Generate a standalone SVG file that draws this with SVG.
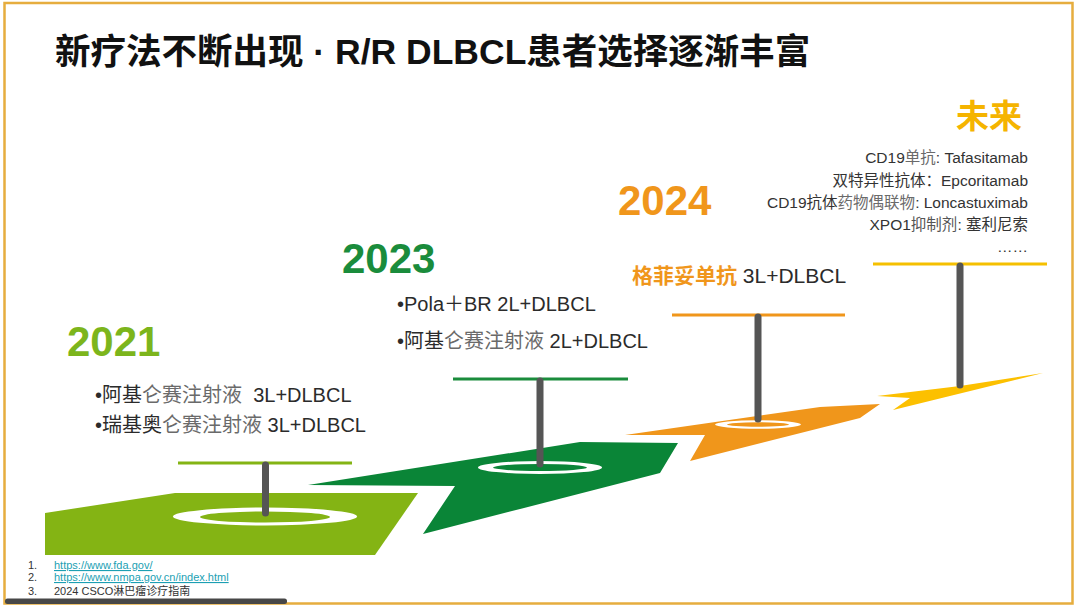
<svg xmlns="http://www.w3.org/2000/svg" width="1080" height="610" viewBox="0 0 1080 610">
<style>
text{font-family:'Liberation Sans','Noto Sans CJK SC',sans-serif;}
.title{font-size:35.5px;font-weight:bold;fill:#111;white-space:pre;}
.year{font-size:42px;font-weight:bold;}
.item{font-size:20px;fill:#2b2b2b;white-space:pre;}
.lt{fill:#6a6a6a;}
.fut{font-size:15.5px;fill:#333;text-anchor:end;}
.fn{font-size:11px;fill:#333;}
.link{fill:#1c9fb3;text-decoration:underline;}
.pole{stroke:#555;stroke-width:7;stroke-linecap:round;}
.bar{stroke-width:3;}
</style>
<rect x="0" y="0" width="1080" height="610" fill="#fff"/>
<rect x="4.5" y="3" width="1068" height="600.5" fill="none" stroke="#e6ad3e" stroke-width="2.5"/>
<rect x="5" y="598.5" width="282" height="5.5" rx="2.5" fill="#474747"/>

<g id="title">
<text class="title" x="55" y="64">新疗法不断出现 · R/R DLBCL患者选择逐渐丰富</text>
</g>

<g id="step-2021">
<polygon points="45,513 175,493 418,493 375,555 45,555" fill="#84b414"/>
<ellipse cx="265" cy="516.5" rx="92" ry="9" fill="#fff"/>
<ellipse cx="265" cy="517" rx="65" ry="5.5" fill="#84b414"/>
<line class="bar" x1="178" y1="463" x2="352" y2="463" stroke="#84b414"/>
<line class="pole" x1="265.5" y1="465" x2="265.5" y2="513"/>
<text class="year" x="67" y="356" fill="#7cb51c">2021</text>
<text class="item" x="95" y="402">•阿基<tspan class="lt">仑赛注射液</tspan>  3L+DLBCL</text>
<text class="item" x="95" y="432">•瑞基奥<tspan class="lt">仑赛注射液</tspan> 3L+DLBCL</text>
</g>

<g id="step-2023">
<polygon points="308,485 580,442 678,443 660,473 423,534 455,486" fill="#0a8537"/>
<ellipse cx="540" cy="467.5" rx="62" ry="6.5" fill="#fff"/>
<ellipse cx="540" cy="467.5" rx="47" ry="3.5" fill="#0a8537"/>
<line class="bar" x1="453" y1="379" x2="628" y2="379" stroke="#1a8c3c"/>
<line class="pole" x1="540" y1="381" x2="540" y2="464"/>
<text class="year" x="342" y="273" fill="#1a8c3c">2023</text>
<text class="item" x="397" y="311">•Pola＋BR 2L+DLBCL</text>
<text class="item" x="397" y="348">•阿基<tspan class="lt">仑赛注射液</tspan> 2L+DLBCL</text>
</g>

<g id="step-2024">
<polygon points="625,435 820,407 880,404 860,418 690,461 705,435" fill="#f0961b"/>
<ellipse cx="758" cy="424.5" rx="43" ry="4.2" fill="#fff"/>
<ellipse cx="758" cy="424.5" rx="31" ry="2.2" fill="#f0961b"/>
<line class="bar" x1="672" y1="315" x2="845" y2="315" stroke="#f0961b"/>
<line class="pole" x1="758" y1="317" x2="758" y2="419"/>
<text class="year" x="618" y="215" fill="#f0961b">2024</text>
<text class="item" x="632" y="283" style="font-size:21px"><tspan fill="#f0961b" font-weight="bold">格菲妥单抗</tspan> 3L+DLBCL</text>
</g>

<g id="step-future">
<polygon points="877,396 960,386 1043,373 893,410 910,398" fill="#fcc000"/>
<line class="bar" x1="873" y1="264" x2="1047" y2="264" stroke="#f5c000"/>
<line class="pole" x1="960" y1="266" x2="960" y2="385"/>
<text x="956" y="128" fill="#f5b400" style="font-size:33px;font-weight:bold">未来</text>
<text class="fut" x="1028" y="163">CD19<tspan class="lt">单抗</tspan>: Tafasitamab</text>
<text class="fut" x="1028" y="186">双特异性抗体：Epcoritamab</text>
<text class="fut" x="1028" y="208">CD19抗体<tspan class="lt">药物偶联物</tspan>: Loncastuximab</text>
<text class="fut" x="1028" y="230">XPO1<tspan fill="#555">抑制剂</tspan>: 塞利尼索</text>
<text class="fut" x="1028" y="252">……</text>
</g>

<g id="footnotes">
<text class="fn" x="28" y="569">1.</text>
<text class="fn link" x="54" y="569">https://www.fda.gov/</text>
<text class="fn" x="28" y="581">2.</text>
<text class="fn link" x="54" y="581">https://www.nmpa.gov.cn/index.html</text>
<text class="fn" x="28" y="595">3.</text>
<text class="fn" x="54" y="595">2024 CSCO淋巴瘤诊疗指南</text>
</g>
</svg>
